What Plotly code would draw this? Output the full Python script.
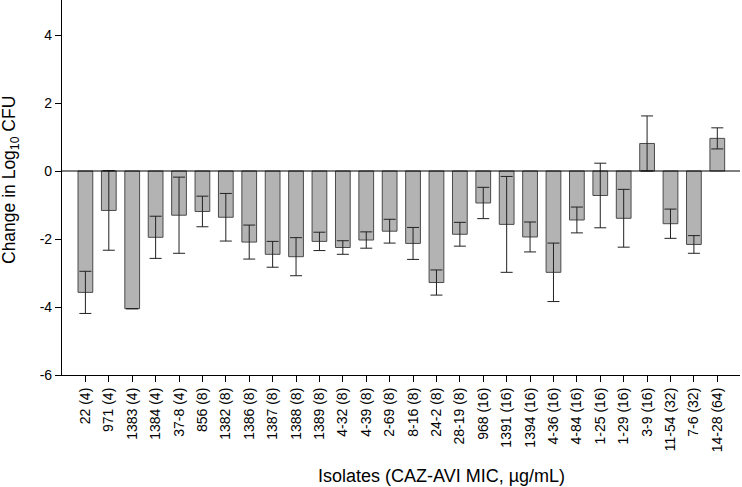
import plotly.graph_objects as go

isolates = ["22 (4)", "971 (4)", "1383 (4)", "1384 (4)", "37-8 (4)", "856 (8)", "1382 (8)",
            "1386 (8)", "1387 (8)", "1388 (8)", "1389 (8)", "4-32 (8)", "4-39 (8)", "2-69 (8)",
            "8-16 (8)", "24-2 (8)", "28-19 (8)", "968 (16)", "1391 (16)", "1394 (16)", "4-36 (16)",
            "4-84 (16)", "1-25 (16)", "1-29 (16)", "3-9 (16)", "11-54 (32)", "7-6 (32)", "14-28 (64)"]
change = [-3.57, -1.16, -4.05, -1.95, -1.30, -1.19, -1.36, -2.09, -2.45, -2.52, -2.07, -2.25,
          -2.03, -1.77, -2.13, -3.28, -1.86, -0.94, -1.57, -1.94, -2.98, -1.44, -0.72, -1.39,
          0.81, -1.55, -2.16, 0.96]
err = [0.62, 1.17, 0.0, 0.62, 1.12, 0.45, 0.70, 0.50, 0.38, 0.56, 0.27, 0.20, 0.24, 0.35,
       0.47, 0.37, 0.35, 0.46, 1.41, 0.44, 0.86, 0.38, 0.95, 0.85, 0.81, 0.43, 0.26, 0.31]
y_ticks = [-6, -4, -2, 0, 2, 4]
y_ticktext = ["-6", "-4", "-2", "0", "2", "4"]

x = list(range(len(isolates)))

fig = go.Figure()
fig.add_trace(go.Bar(
    x=x, y=change, width=0.63,
    marker=dict(color="#b3b3b3", line=dict(color="#4a4a4a", width=1)),
    error_y=dict(type="data", array=err, visible=True, color="#222222", thickness=1, width=6),
    showlegend=False,
))

fig.update_layout(
    width=742, height=487,
    margin=dict(l=62, r=2, t=0, b=112),
    plot_bgcolor="white", paper_bgcolor="white",
    font=dict(family="Liberation Sans, Arial, sans-serif", size=13, color="#000"),
    shapes=[dict(type="line", xref="paper", yref="y", x0=0, x1=1, y0=0, y1=0,
                 line=dict(color="#000", width=1.2), layer="above")],
    annotations=[
        dict(text="Isolates (CAZ-AVI MIC, µg/mL)", xref="paper", yref="paper",
             x=0.56, y=0, yshift=-101, xanchor="center", yanchor="middle",
             showarrow=False, font=dict(size=18)),
        dict(text="Change in Log<sub>10</sub> CFU", xref="paper", yref="paper",
             x=0, xshift=-52, y=0.52, xanchor="center", yanchor="middle",
             textangle=-90, showarrow=False, font=dict(size=17.5)),
    ],
)
fig.update_xaxes(
    range=[-1, 27.97], tickmode="array", tickvals=x, ticktext=isolates, tickangle=-90,
    showline=True, linecolor="#000", linewidth=1.2, ticks="outside", ticklen=6,
    tickcolor="#000", showgrid=False, zeroline=False, automargin=False,
    tickfont=dict(size=14),
)
fig.update_yaxes(
    range=[-6, 5.03], tickmode="array", tickvals=y_ticks, ticktext=y_ticktext,
    showline=True, linecolor="#000", linewidth=1.2, ticks="outside", ticklen=6,
    tickcolor="#000", showgrid=False, zeroline=False, automargin=False,
    tickfont=dict(size=14),
)

fig.write_html("out.html", config={"displayModeBar": False},
               post_script="document.body.style.margin='0';document.body.style.overflow='hidden';")
